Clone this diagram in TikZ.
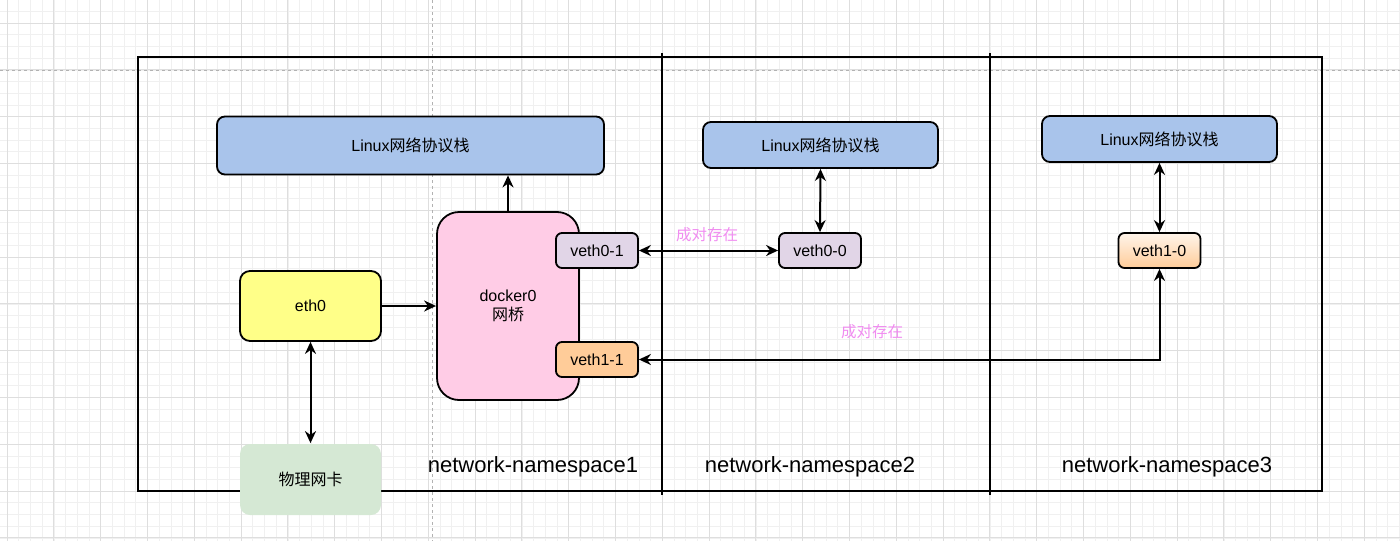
\documentclass[tikz,border=0pt]{standalone}
\usepackage{fontspec}
\setmainfont{Liberation Sans}
\newfontfamily\cjk{Noto Sans CJK SC}
\usetikzlibrary{arrows.meta,positioning}
\definecolor{stackblue}{HTML}{A9C4EB}
\definecolor{bridgepink}{HTML}{FFCCE6}
\definecolor{vethpurple}{HTML}{E1D5E7}
\definecolor{vethorange}{HTML}{FFCC99}
\definecolor{ethyellow}{HTML}{FFFF88}
\definecolor{nicgreen}{HTML}{D5E8D4}
\definecolor{pairpink}{HTML}{F08CF0}

\begin{document}
\begin{tikzpicture}[
    x=1pt, y=-1pt,
    font=\fontsize{16}{19}\selectfont,
    >={Stealth[length=12pt,width=11pt]},
    box/.style={
        draw, line width=1.8pt, rounded corners=8pt,
        align=center, inner sep=0pt
    },
    stackbox/.style={
        box, fill=stackblue,
        minimum height=58pt
    },
    vethbox/.style={
        box, rounded corners=6pt,
        minimum width=82pt, minimum height=35pt
    },
    minorgrid/.style={draw=black!6, line width=0.6pt},
    majorgrid/.style={draw=black!13, line width=0.8pt},
    pagebreak/.style={draw=black!30, dashed, line width=0.8pt},
    frame/.style={line width=1.8pt},
    pairline/.style={<->, line width=2pt},
    arrow/.style={->, line width=2pt},
    pairlabel/.style={
        text=pairpink, font=\cjk\fontsize{15.5}{18}\selectfont
    },
    nslabel/.style={
        font=\fontsize{22}{26}\selectfont
    }
]
\useasboundingbox (0,0) rectangle (1400,541);

% --- canvas grid ---
\begin{scope}
\clip (0,0) rectangle (1400,541);
\foreach \i in {-1,...,120} {
    \draw[minorgrid] ({7+\i*11.7},0) -- ++(0,541);
}
\foreach \i in {-1,...,46} {
    \draw[minorgrid] (0,{23+\i*11.7}) -- ++(1400,0);
}
\foreach \i in {0,...,30} {
    \draw[majorgrid] ({7+\i*46.8},0) -- ++(0,541);
}
\foreach \i in {0,...,11} {
    \draw[majorgrid] (0,{23+\i*46.8}) -- ++(1400,0);
}
\draw[pagebreak] (0,70) -- (1400,70);
\draw[pagebreak] (432,0) -- (432,541);
\end{scope}

% --- namespace frames ---
\draw[frame] (138,57) rectangle (1322,491);
\draw[frame] (662,53) -- (662,495);
\draw[frame] (990,53) -- (990,495);

% --- namespace 1 ---
\node[stackbox, minimum width=387pt] (stack1) at (410.5,145.5) {Linux{\cjk 网络协议栈}};
\node[box, fill=bridgepink, rounded corners=22pt,
      minimum width=142pt, minimum height=188pt] (docker) at (508,306) {docker0\\{\cjk 网桥}};
\node[vethbox, fill=vethpurple] (veth01) at (597,250.5) {veth0-1};
\node[vethbox, fill=vethorange] (veth11) at (597,359.5) {veth1-1};
\node[box, fill=ethyellow, rounded corners=10pt,
      minimum width=141pt, minimum height=70pt] (eth) at (310.5,306) {eth0};
\node[box, draw=none, fill=nicgreen, rounded corners=10pt,
      minimum width=141pt, minimum height=71pt,
      font=\cjk\fontsize{16}{19}\selectfont] (nic) at (310.5,479.5) {物理网卡};
\node[nslabel] (ns1) at (533,467) {network-namespace1};

% --- namespace 2 ---
\node[stackbox, minimum width=235pt, minimum height=46pt] (stack2) at (820.5,145) {Linux{\cjk 网络协议栈}};
\node[vethbox, fill=vethpurple] (veth00) at (820,250.5) {veth0-0};
\node[nslabel] (ns2) at (810,467) {network-namespace2};

% --- namespace 3 ---
\node[stackbox, minimum width=235pt, minimum height=46pt] (stack3) at (1159.5,139) {Linux{\cjk 网络协议栈}};
\node[vethbox, top color=orange!8, bottom color=vethorange] (veth10) at (1159.5,250.5) {veth1-0};
\node[nslabel] (ns3) at (1167,467) {network-namespace3};

% --- connectors ---
\draw[arrow] (docker.north) -- (docker.north |- stack1.south);
\draw[arrow] (eth.east) -- (docker.west);
\draw[pairline] (eth.south) -- (nic.north);
\draw[pairline] (veth01.east) -- (veth00.west);
\draw[pairline] (stack2.south) -- (veth00.north);
\draw[pairline] (stack3.south) -- (veth10.north);
\draw[pairline] (veth11.east) -- (veth11.east -| veth10.south) -- (veth10.south);

% --- pair labels ---
\node[pairlabel] (pair0) at (707,235) {成对存在};
\node[pairlabel] (pair1) at (872,332) {成对存在};

\end{tikzpicture}
\end{document}
